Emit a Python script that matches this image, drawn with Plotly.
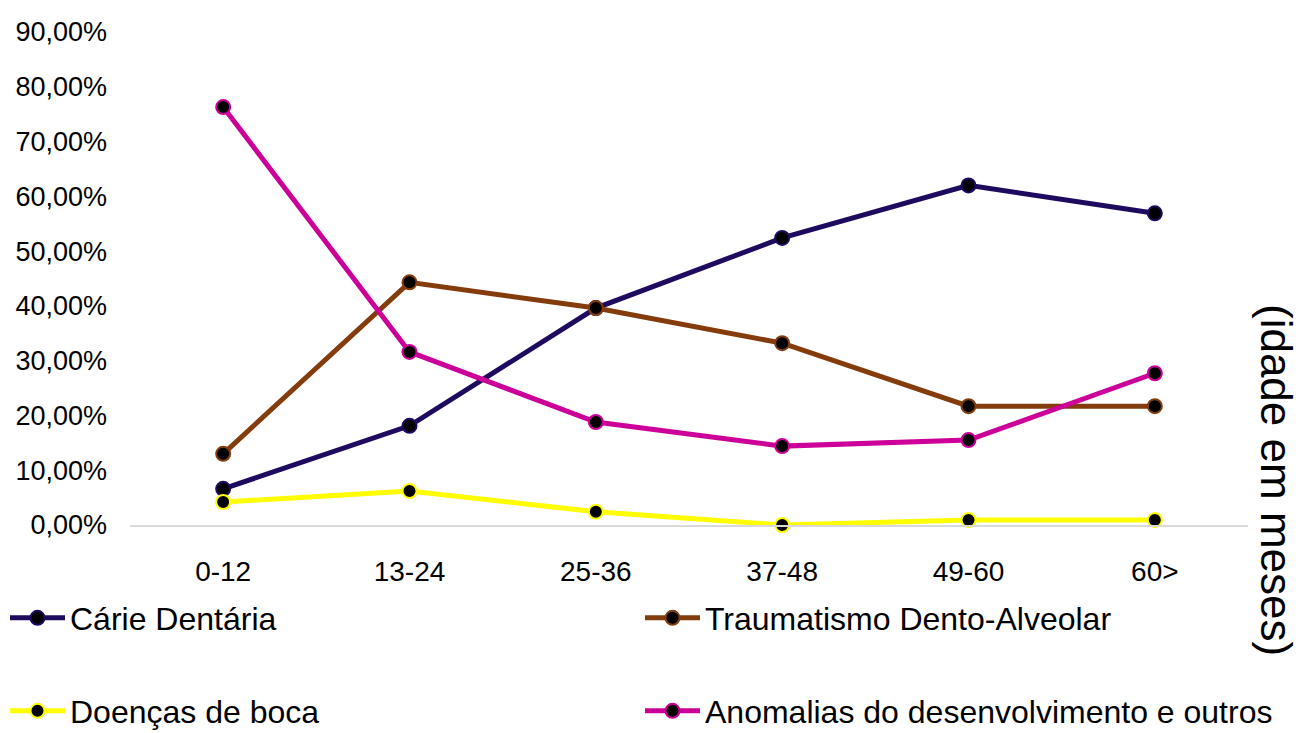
import plotly.graph_objects as go

# Age bands (months) and share of cases per diagnosis group
idades = ["0-12", "13-24", "25-36", "37-48", "49-60", "60>"]
carie = [0.066, 0.181, 0.396, 0.524, 0.620, 0.569]
traumatismo = [0.130, 0.443, 0.396, 0.332, 0.217, 0.217]
doencas = [0.042, 0.062, 0.024, 0.000, 0.009, 0.009]
anomalias = [0.763, 0.316, 0.188, 0.144, 0.155, 0.277]

y_ticks = [i / 10 for i in range(10)]
y_tick_labels = [f"{v * 100:.2f}%".replace(".", ",") for v in y_ticks]

series = [
    ("Cárie Dentária", carie, "#1E0A5E", "legend"),
    ("Traumatismo Dento-Alveolar", traumatismo, "#843C0C", "legend2"),
    ("Doenças de boca", doencas, "#FFFF00", "legend3"),
    ("Anomalias do desenvolvimento e outros", anomalias, "#CC0099", "legend4"),
]

fig = go.Figure()
for name, vals, color, leg in series:
    fig.add_trace(go.Scatter(
        x=idades, y=vals, name=name, mode="lines+markers",
        line=dict(color=color, width=5),
        marker=dict(size=14, color="black", line=dict(color=color, width=2)),
        cliponaxis=False, legend=leg,
    ))

font = "Liberation Sans, Arial, sans-serif"
leg_font = dict(family=font, size=32, color="black")
W, H = 1302, 733
L, R, T, B = 130, 54, 32, 208


def legend_at(x, y):
    # position given in page pixels, anchored on the container
    return dict(x=x / W, y=1 - y / H, xref="container", yref="container",
                xanchor="left", yanchor="middle",
                font=leg_font, bgcolor="rgba(0,0,0,0)", itemwidth=55)


fig.update_layout(
    width=W, height=H,
    margin=dict(l=L, r=R, t=T, b=B, autoexpand=False),
    paper_bgcolor="white", plot_bgcolor="white",
    font=dict(family=font, color="black"),
    xaxis=dict(
        showgrid=False, showline=True, linecolor="#D9D9D9", linewidth=2,
        ticks="", tickfont=dict(size=28), range=[-0.5, 5.5],
        ticklabelstandoff=20,
    ),
    yaxis=dict(
        range=[0, 0.9], showgrid=False, showline=False, zeroline=False,
        tickvals=y_ticks, ticktext=y_tick_labels, tickfont=dict(size=27),
        ticks="", ticklabelstandoff=22,
    ),
    showlegend=True,
    legend=legend_at(5, 618),
    legend2=legend_at(640, 618),
    legend3=legend_at(5, 711),
    legend4=legend_at(640, 711),
    annotations=[dict(
        text="(idade em meses)", textangle=90, showarrow=False,
        xref="paper", yref="paper", x=(1277 - L) / (W - L - R),
        y=(H - B - 480) / (H - T - B),
        xanchor="center", yanchor="middle",
        font=dict(family=font, size=44, color="black"),
    )],
)

fig.write_html("out.html")
